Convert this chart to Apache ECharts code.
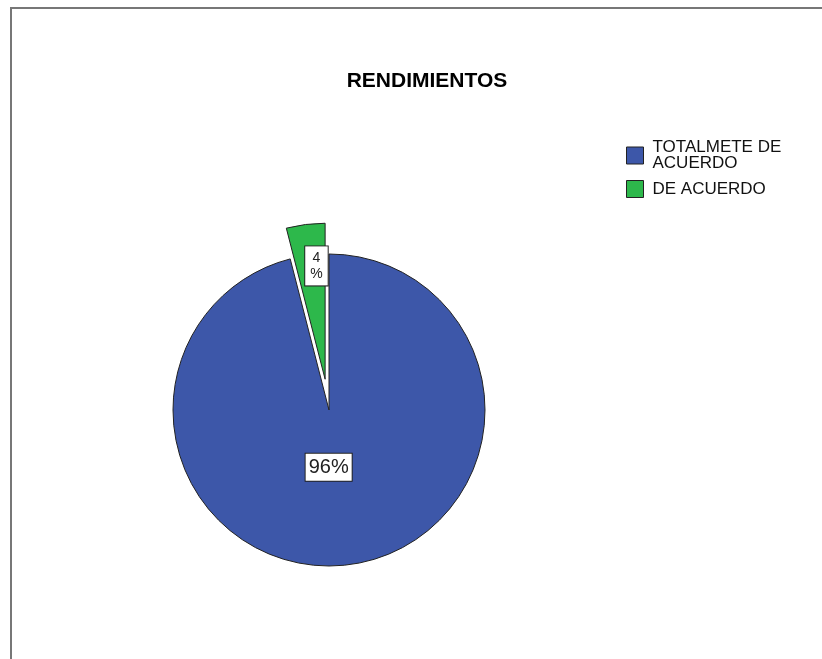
<!DOCTYPE html>
<html><head><meta charset="utf-8">
<script src="https://cdn.jsdelivr.net/npm/echarts@6/dist/echarts.min.js"></script>
<style>html,body{margin:0;padding:0;background:#fff}#c{width:822px;height:659px}</style>
</head><body><div id="c"></div>
<script>
const categories = ['TOTALMETE DE\nACUERDO', 'DE ACUERDO'];
const values = [96, 4];
const colors = ['#3D57A9', '#2DB84B'];
const labelTexts = ['96%', '4\n%'];

const chart = echarts.init(document.getElementById('c'));
const font = '"Liberation Sans", Arial, sans-serif';
const labelShift = [[-10.5, -23], [1.5, -33]];
const data = categories.map((name, i) => ({
  name, value: values[i],
  selected: i === 1,
  itemStyle: { color: colors[i] },
  label: {
    formatter: labelTexts[i],
    fontSize: i === 0 ? 20 : 14,
    lineHeight: i === 0 ? 22 : 16,
    padding: i === 0 ? [3, 3, 2, 3] : [4, 5, 3, 5]
  }
}));
chart.setOption({
  animation: false,
  title: {
    text: 'RENDIMIENTOS', left: 422, top: 66, textAlign: 'center',
    textStyle: { fontFamily: font, fontWeight: 'bold', fontSize: 21, color: '#000' }
  },
  legend: {
    orient: 'vertical', left: 626, top: 139, padding: 0,
    itemWidth: 17, itemHeight: 17, itemGap: 8,
    icon: 'rect',
    itemStyle: { borderColor: '#222', borderWidth: 1 },
    textStyle: { fontFamily: font, fontSize: 17, lineHeight: 16, color: '#111', padding: [0,0,0,4] },
    selectedMode: false
  },
  graphic: [
    { type: 'line', shape: { x1: 11, y1: 8, x2: 11, y2: 659 }, style: { stroke: '#777', lineWidth: 2 } },
    { type: 'line', shape: { x1: 10, y1: 8, x2: 822, y2: 8 }, style: { stroke: '#777', lineWidth: 2 } }
  ],
  series: [{
    type: 'pie',
    center: [329, 410], radius: 156,
    startAngle: 90, clockwise: true,
    selectedMode: 'single', selectedOffset: 31,
    avoidLabelOverlap: false,
    itemStyle: { borderColor: '#222', borderWidth: 1 },
    label: {
      show: true, position: 'inside',
      fontFamily: font, color: '#222',
      backgroundColor: '#fff', borderColor: '#222', borderWidth: 1
    },
    labelLayout: function (p) {
      const s = labelShift[p.dataIndex];
      return { dx: s[0], dy: s[1] };
    },
    labelLine: { show: false },
    emphasis: { disabled: true },
    data
  }]
});
</script></body></html>
